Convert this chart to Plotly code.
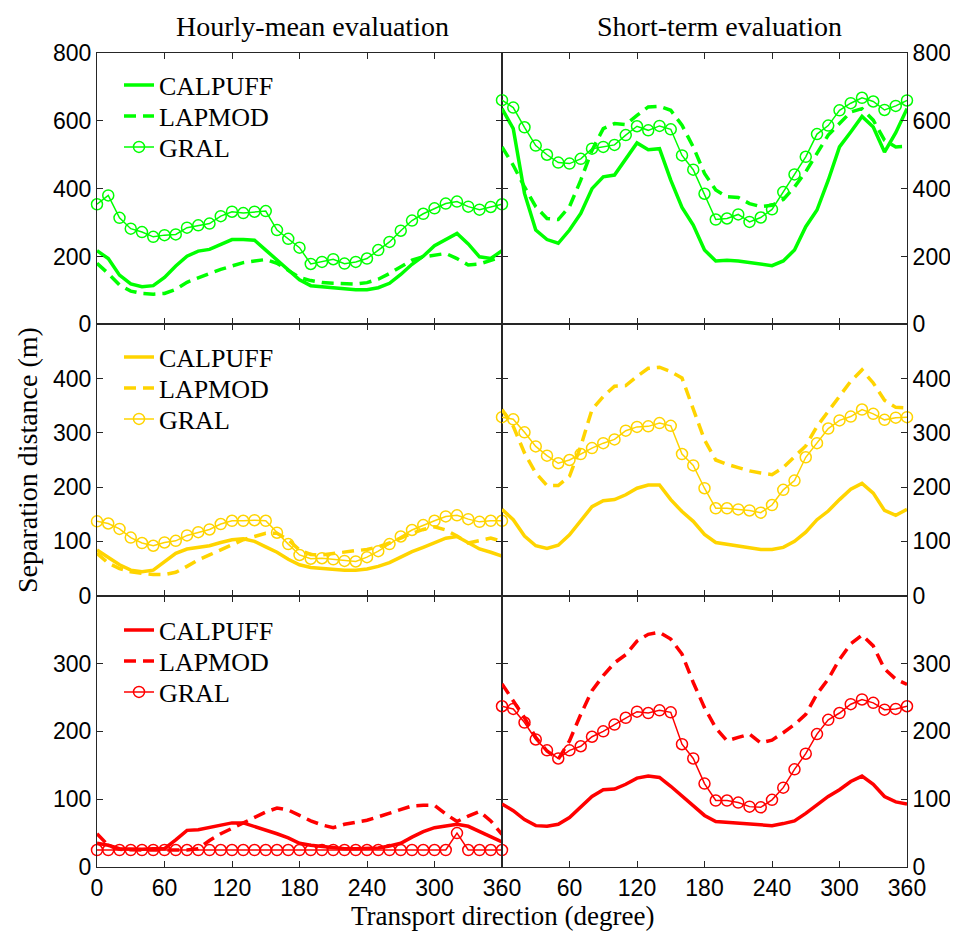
import plotly.graph_objects as go
from plotly.subplots import make_subplots

# Transport direction (degree)
directions = [0, 10, 20, 30, 40, 50, 60, 70, 80, 90, 100, 110, 120, 130, 140, 150, 160, 170, 180,
              190, 200, 210, 220, 230, 240, 250, 260, 270, 280, 290, 300, 310, 320, 330, 340, 350, 360]

model_names = ["CALPUFF", "LAPMOD", "GRAL"]
column_titles = ["Hourly-mean evaluation", "Short-term evaluation"]

# Row 1 (green) - hourly-mean
calpuff_hourly_1 = [217, 194, 145, 119, 111, 114, 138, 172, 201, 216, 221, 236, 250, 250, 248, 219, 189, 162, 131,
                    114, 111, 108, 105, 102, 102, 108, 121, 147, 177, 201, 232, 250, 268, 237, 199, 194, 217]
lapmod_hourly_1 = [180, 150, 116, 98, 91, 89, 91, 103, 124, 138, 150, 162, 173, 182, 187, 191, 180, 158, 138,
                   129, 123, 121, 119, 119, 123, 133, 150, 170, 189, 199, 204, 209, 194, 175, 178, 189, 199]
gral_hourly_1 = [354, 380, 314, 282, 272, 258, 263, 265, 285, 292, 297, 319, 332, 328, 332, 334, 278, 252, 226,
                 178, 184, 192, 179, 184, 194, 219, 243, 276, 306, 326, 342, 356, 362, 347, 338, 346, 354]
# Row 1 (green) - short-term
calpuff_short_1 = [636, 577, 386, 278, 250, 239, 278, 327, 400, 435, 440, 487, 535, 515, 518, 425, 345, 293, 219,
                   187, 189, 187, 182, 177, 173, 187, 219, 288, 337, 425, 523, 567, 613, 582, 508, 565, 636]
lapmod_short_1 = [523, 469, 405, 347, 312, 309, 347, 425, 513, 577, 592, 589, 616, 641, 643, 631, 587, 523, 445,
                  396, 376, 374, 356, 347, 351, 368, 405, 450, 504, 558, 592, 626, 636, 602, 543, 523, 525]
gral_short_1 = [661, 639, 581, 527, 500, 477, 474, 488, 518, 523, 529, 558, 584, 572, 585, 575, 498, 456, 385,
                309, 312, 324, 302, 315, 339, 390, 442, 494, 561, 586, 631, 652, 668, 657, 632, 644, 660]

# Row 2 (yellow) - hourly-mean
calpuff_hourly_2 = [84, 71, 57, 47, 44, 47, 63, 78, 86, 89, 92, 98, 103, 105, 100, 90, 80, 67, 57,
                    52, 50, 49, 47, 47, 49, 54, 61, 71, 81, 89, 98, 106, 109, 98, 86, 80, 73]
lapmod_hourly_2 = [78, 60, 50, 44, 41, 39, 39, 43, 54, 66, 75, 84, 93, 103, 109, 115, 115, 103, 84,
                   76, 75, 78, 81, 83, 85, 90, 97, 106, 115, 122, 127, 121, 110, 97, 101, 106, 100]
gral_hourly_2 = [137, 133, 123, 107, 97, 92, 98, 101, 111, 117, 122, 132, 138, 138, 139, 138, 116, 95, 75,
                 68, 69, 67, 64, 63, 71, 82, 95, 109, 121, 130, 138, 146, 148, 141, 136, 138, 138]
# Row 2 (yellow) - short-term
calpuff_short_2 = [159, 140, 110, 92, 87, 93, 112, 137, 164, 175, 177, 186, 198, 204, 204, 177, 155, 137, 113,
                   98, 95, 92, 89, 85, 85, 89, 100, 117, 140, 156, 177, 196, 207, 189, 157, 148, 159]
lapmod_short_2 = [343, 312, 263, 226, 203, 203, 220, 275, 343, 367, 386, 387, 404, 419, 421, 413, 401, 343, 287,
                  250, 242, 236, 230, 226, 223, 236, 256, 276, 312, 339, 367, 395, 416, 392, 360, 347, 346]
gral_short_2 = [329, 325, 301, 275, 258, 244, 250, 261, 272, 281, 288, 304, 311, 312, 318, 313, 261, 240, 198,
                161, 161, 159, 157, 153, 167, 195, 212, 255, 281, 308, 323, 330, 343, 335, 324, 328, 329]

# Row 3 (red) - hourly-mean
calpuff_hourly_3 = [35, 32, 27, 26, 26, 27, 27, 40, 54, 55, 58, 61, 65, 65, 60, 55, 49, 43, 35,
                    32, 30, 28, 27, 27, 27, 28, 31, 35, 44, 52, 58, 60, 63, 60, 52, 45, 37]
lapmod_hourly_3 = [49, 32, 26, 25, 25, 25, 25, 25, 25, 27, 39, 49, 57, 64, 72, 81, 87, 84, 76,
                   68, 62, 58, 63, 66, 69, 74, 79, 85, 90, 91, 91, 78, 67, 75, 82, 68, 48]
gral_hourly_3 = [25, 25, 25, 25, 25, 25, 25, 25, 25, 25, 25, 25, 25, 25, 25, 25, 25, 25, 25,
                 25, 25, 25, 25, 25, 25, 25, 25, 25, 25, 25, 25, 25, 50, 25, 25, 25, 25]
# Row 3 (red) - short-term
calpuff_short_3 = [93, 83, 70, 61, 60, 63, 73, 88, 104, 114, 115, 122, 131, 134, 132, 119, 105, 91, 76,
                   67, 66, 65, 64, 62, 61, 64, 68, 79, 92, 104, 114, 126, 134, 122, 104, 96, 93]
lapmod_short_3 = [270, 246, 220, 191, 171, 159, 186, 225, 260, 282, 301, 313, 333, 343, 346, 336, 314, 272, 235,
                  205, 186, 191, 196, 183, 187, 198, 210, 225, 255, 277, 306, 329, 342, 326, 292, 277, 269]
gral_short_3 = [237, 233, 213, 188, 172, 160, 172, 178, 192, 200, 210, 220, 229, 227, 231, 228, 181, 160, 123,
                98, 98, 95, 89, 88, 99, 117, 144, 167, 196, 217, 227, 240, 247, 242, 232, 233, 237]

row_colors = ["#00FF00", "#FFD400", "#FF0000"]
row_yranges = [[0, 800], [0, 500], [0, 400]]
row_yticks = [[0, 200, 400, 600, 800], [0, 100, 200, 300, 400], [0, 100, 200, 300]]
left_xticks = [0, 60, 120, 180, 240, 300, 360]
right_xticks = [60, 120, 180, 240, 300, 360]

row_data = [
    [(calpuff_hourly_1, lapmod_hourly_1, gral_hourly_1), (calpuff_short_1, lapmod_short_1, gral_short_1)],
    [(calpuff_hourly_2, lapmod_hourly_2, gral_hourly_2), (calpuff_short_2, lapmod_short_2, gral_short_2)],
    [(calpuff_hourly_3, lapmod_hourly_3, gral_hourly_3), (calpuff_short_3, lapmod_short_3, gral_short_3)],
]

SERIF = "Liberation Serif"
SANS = "Liberation Sans, Arial"
AXCOL = "#262626"

# The page body has an 8px margin, so the figure is drawn 8px in from the window corner.
OFF = 8
W, H = 958 - 2 * OFF, 941 - 2 * OFF
# target plot-area edges in window pixels
X0, X1, Y0, Y1 = 97, 907, 53, 867
ML, MR, MT, MB = X0 - OFF, W - (X1 - OFF), Y0 - OFF, H - (Y1 - OFF)
PW, PH = X1 - X0, Y1 - Y0


def px_to_paper_x(px):
    return (px - X0) / PW


def px_to_paper_y(py):
    return 1 - (py - Y0) / PH


fig = make_subplots(rows=3, cols=2, horizontal_spacing=0, vertical_spacing=0)

# legend entry vertical centres (window pixels) for each row, one legend per entry
legend_rows_px = [[85, 116, 147], [357, 388, 419], [630, 661, 692]]

legend_layout = {}
for r in range(3):
    color = row_colors[r]
    for c in range(2):
        cal, lap, gral = row_data[r][c]
        show = (c == 0)
        series = [cal, lap, gral]
        for k in range(3):
            lid = "legend" if (r * 3 + k) == 0 else "legend%d" % (r * 3 + k + 1)
            if k == 0:
                kw = dict(mode="lines", line=dict(color=color, width=3.5))
            elif k == 1:
                kw = dict(mode="lines", line=dict(color=color, width=3.5, dash="12px,7px"))
            else:
                kw = dict(mode="lines+markers", line=dict(color=color, width=1.5),
                          marker=dict(symbol="circle-open", size=11, color=color,
                                      line=dict(width=1.5, color=color)),
                          cliponaxis=False)
            fig.add_trace(go.Scatter(x=directions, y=series[k], name=model_names[k],
                                     showlegend=show, legend=lid, **kw),
                          row=r + 1, col=c + 1)
            if c == 0:
                legend_layout[lid] = dict(
                    x=px_to_paper_x(119), y=px_to_paper_y(legend_rows_px[r][k]),
                    xanchor="left", yanchor="middle", bgcolor="rgba(0,0,0,0)", borderwidth=0,
                    font=dict(family=SERIF, size=26, color="black"), itemwidth=30)

        fig.update_xaxes(range=[0, 360], tickvals=left_xticks if c == 0 else right_xticks,
                         ticks="inside", ticklen=6, tickcolor=AXCOL, showline=True, linecolor=AXCOL,
                         linewidth=1, mirror="allticks", showgrid=False, zeroline=False,
                         automargin=False,
                         showticklabels=(r == 2), tickfont=dict(family=SANS, size=23, color="black"),
                         row=r + 1, col=c + 1)
        fig.update_yaxes(range=row_yranges[r], tickvals=row_yticks[r],
                         ticks="inside", ticklen=6, tickcolor=AXCOL, showline=True, linecolor=AXCOL,
                         linewidth=1, mirror="allticks", showgrid=False, zeroline=False,
                         automargin=False,
                         side="left" if c == 0 else "right",
                         tickfont=dict(family=SANS, size=23, color="black"),
                         row=r + 1, col=c + 1)

fig.update_layout(
    width=W, height=H,
    margin=dict(l=ML, r=MR, t=MT, b=MB, autoexpand=False),
    paper_bgcolor="white", plot_bgcolor="white",
    **legend_layout,
)

serif_font = dict(family=SERIF, size=28, color="black")
annotations = [
    dict(text=column_titles[0], x=px_to_paper_x(312), y=px_to_paper_y(27), xref="paper", yref="paper",
         xanchor="center", yanchor="middle", showarrow=False, font=serif_font),
    dict(text=column_titles[1], x=px_to_paper_x(719), y=px_to_paper_y(27), xref="paper", yref="paper",
         xanchor="center", yanchor="middle", showarrow=False, font=serif_font),
    dict(text="Separation distance (m)", x=px_to_paper_x(27), y=0.5, xref="paper", yref="paper",
         xanchor="center", yanchor="middle", textangle=-90, showarrow=False, font=serif_font),
    dict(text="Transport direction (degree)", x=px_to_paper_x(502), y=px_to_paper_y(916),
         xref="paper", yref="paper",
         xanchor="center", yanchor="middle", showarrow=False,
         font=dict(family=SERIF, size=27, color="black")),
]
fig.update_layout(annotations=annotations)

fig.write_html("out.html")
